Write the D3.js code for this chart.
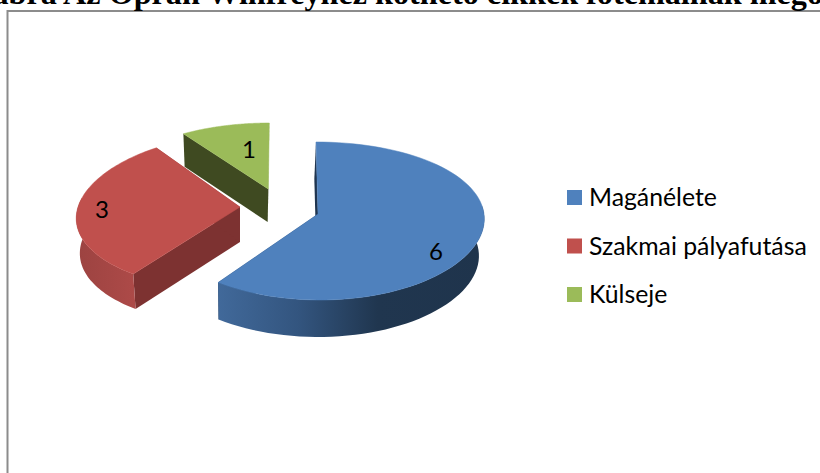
<!DOCTYPE html>
<html><head><meta charset="utf-8">
<script src="https://cdn.jsdelivr.net/npm/d3@7"></script>
<style>html,body{margin:0;padding:0;background:#fff;overflow:hidden}svg{display:block}</style>
</head><body><svg id="c" width="820" height="473"></svg>
<script>
const categories = ["Magánélete", "Szakmai pályafutása", "Külseje"];
const values = [6, 3, 1];
const titleText = "ábra Az Oprah Winfreyhez köthető cikkek főtémáinak megoszlása";

const topColors = ["#4f81bd", "#c0504d", "#9bbb59"];
const wallColors = ["#1f3550", "#7d3231", "#3f4a21"];
// layout of each exploded slice: apex of top face, perspective, extrusion depth, label position
const apexes = [[318, 214], [240, 207], [268.3, 189]];
const radiusX = [166, 162, 166];
const radiusY = [79, 78, 78];
const backSquash = [7, 6, 12];
const persp = [0.05, 0.15, 0.15];
const lean = [2, 0, -1];
const depth = [37, 35, 33];
const labelAt = [[436, 250], [102, 208], [249, 148]];
const vanishX = 240, taper = 0.022;

const svg = d3.select("#c");
const defs = svg.append("defs");
const grad = (id, stops) => {
  const g = defs.append("linearGradient").attr("id", id).attr("x1", 0).attr("x2", 1).attr("y1", 0).attr("y2", 0);
  stops.forEach(([o, c]) => g.append("stop").attr("offset", o).attr("stop-color", c));
};
grad("g0", [[0, "#41699a"], [0.3, "#33557f"], [0.6, "#20364f"], [1, "#1f344c"]]);
grad("g1", [[0, "#9c4341"], [1, "#ad4a48"]]);

// frame
svg.append("path").attr("d", "M7.5,473V11H820").attr("fill", "none").attr("stroke", "#8c8c8c").attr("stroke-width", 2);

// title
svg.append("text").text(titleText).attr("x", -7.6).attr("y", 4)
  .attr("font-family", "'Liberation Serif'").attr("font-weight", "bold").attr("font-size", 32.2);

const arcs = d3.pie().sort(null)(values);
const project = (i, a) => {
  const s = Math.sin(a), c = -Math.cos(a);
  return [apexes[i][0] + radiusX[i] * s * (1 + persp[i] * c) + lean[i] * c,
          apexes[i][1] + radiusY[i] * c + backSquash[i] * c * c];
};
const line = d3.line();
const sample = (a0, a1, n = 80) => d3.range(n + 1).map(k => a0 + (a1 - a0) * k / n);

[2, 1, 0].forEach(i => {
  const d = arcs[i], dz = depth[i], a = apexes[i];
  const g = svg.append("g");
  const pts = sample(d.startAngle, d.endAngle);
  const rim = pts.map(t => project(i, t));
  const down = p => [p[0] + (vanishX - p[0]) * taper, p[1] + dz];
  const wall = (p, q, fill) => g.append("path").attr("d", line([p, q, down(q), down(p)]) + "Z").attr("fill", fill);
  // flat cut walls
  wall(a, rim[0], wallColors[i]);
  wall(a, rim[rim.length - 1], wallColors[i]);
  // curved outer wall: the front-facing part only
  const front = pts.filter(t => Math.cos(t) < 0.12).map(t => project(i, t));
  if (front.length > 1) {
    g.append("path").attr("d", line(front.concat(front.map(down).reverse())) + "Z")
      .attr("fill", i === 0 ? "url(#g0)" : i === 1 ? "url(#g1)" : wallColors[i]);
  }
  // top face
  g.append("path").attr("d", line([a].concat(rim)) + "Z").attr("fill", topColors[i])
    .attr("stroke", topColors[i]).attr("stroke-width", 0.5);
  g.append("text").text(values[i]).attr("x", labelAt[i][0]).attr("y", labelAt[i][1])
    .attr("text-anchor", "middle").attr("dominant-baseline", "central")
    .attr("font-family", "Lato").attr("font-size", 24).attr("fill", "#000");
});

// legend
const legendY = d3.scalePoint().domain(categories).range([197.5, 294.5]);
const legend = svg.append("g").selectAll("g").data(categories).join("g")
  .attr("transform", d => `translate(567,${legendY(d)})`);
legend.append("rect").attr("y", -7.5).attr("width", 15).attr("height", 15)
  .attr("fill", (d, i) => topColors[i]);
legend.append("text").text(d => d).attr("x", 22).attr("y", -1).attr("dominant-baseline", "central")
  .attr("font-family", "Lato").attr("font-size", 24.8).attr("fill", "#000");
</script></body></html>
